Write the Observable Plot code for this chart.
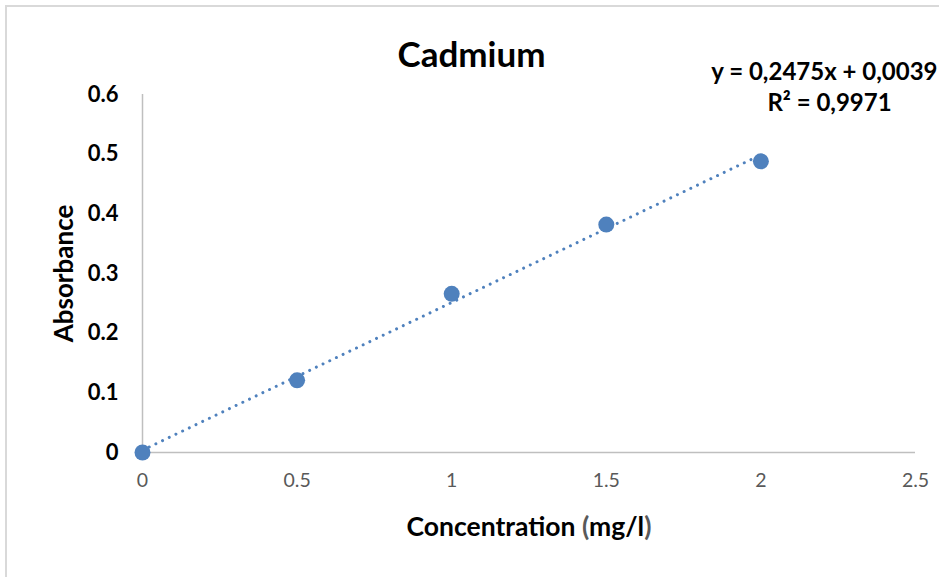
<!DOCTYPE html>
<html>
<head>
<meta charset="utf-8">
<script src="https://cdn.jsdelivr.net/npm/d3@7"></script>
<script src="https://cdn.jsdelivr.net/npm/@observablehq/plot@0.6"></script>
<style>
  html, body { margin: 0; padding: 0; background: #fff; overflow: hidden; }
  #wrap { position: relative; width: 939px; height: 577px; overflow: hidden; }
  #frame { position: absolute; left: 5px; top: 5px; width: 1200px; height: 1200px; border: 2px solid #d9d9d9; box-sizing: border-box; }
  #chart { position: absolute; left: 0; top: 0; }
</style>
</head>
<body>
<div id="wrap"><div id="frame"></div><div id="chart"></div></div>
<script>
const title = "Cadmium";
const xLabel = "Concentration (mg/l)";
const yLabel = "Absorbance";
const concentration = [0, 0.5, 1, 1.5, 2];
const absorbance = [0, 0.121, 0.266, 0.382, 0.488];
const xTicks = [0, 0.5, 1, 1.5, 2, 2.5];
const yTicks = [0, 0.1, 0.2, 0.3, 0.4, 0.5, 0.6];
const trendSlope = 0.2475;
const trendIntercept = 0.0039;
const trendX = [0, 2];
const equationText = "y = 0,2475x + 0,0039";
const r2Text = "R² = 0,9971";

const blue = "#4f81bd";
const font = "Lato, 'Open Sans', sans-serif";

const points = concentration.map((c, i) => ({x: c, y: absorbance[i]}));
const trend = trendX.map(x => ({x, y: trendSlope * x + trendIntercept}));

const chart = Plot.plot({
  width: 939,
  height: 577,
  marginLeft: 142,
  marginRight: 24,
  marginTop: 94,
  marginBottom: 125,
  style: {fontFamily: font, background: "transparent", overflow: "visible"},
  x: {domain: [0, 2.5]},
  y: {domain: [0, 0.6]},
  marks: [
    Plot.ruleY([0], {stroke: "#bfbfbf", strokeWidth: 1.5}),
    Plot.ruleX([0], {stroke: "#bfbfbf", strokeWidth: 1.5}),
    Plot.axisX({ticks: xTicks, tickSize: 0, tickPadding: 21, tickFormat: d => String(d), fontSize: 19.5, fill: "#595959", label: null}),
    Plot.axisY({ticks: yTicks, tickSize: 0, tickPadding: 24, tickFormat: d => String(d), fontSize: 22, fontWeight: "bold", fill: "#000", label: null}),
    Plot.line(trend, {x: "x", y: "y", stroke: blue, strokeWidth: 3, strokeDasharray: "0.01 7.4", strokeLinecap: "round"}),
    Plot.dot(points, {x: "x", y: "y", r: 8, fill: blue, stroke: "none"}),
    Plot.text([title], {frameAnchor: "top-left", dx: 329, dy: -39, text: d => d, fontSize: 35, fontWeight: "bold", fill: "#000", textAnchor: "middle", lineAnchor: "middle"}),
    Plot.text([yLabel], {frameAnchor: "left", dx: -78, text: d => d, rotate: -90, fontSize: 26, fontWeight: "bold", fill: "#000", textAnchor: "middle", lineAnchor: "middle"}),
    Plot.text([xLabel], {frameAnchor: "bottom", dy: 75, text: d => d, fontSize: 26.5, fontWeight: "bold", fill: "#000", textAnchor: "middle", lineAnchor: "middle"}),
    Plot.text([equationText], {frameAnchor: "top-right", dx: 22, dy: -22, text: d => d, fontSize: 24, fontWeight: "bold", fill: "#000", textAnchor: "end", lineAnchor: "middle"}),
    Plot.text([r2Text], {frameAnchor: "top-right", dx: -86, dy: 9, text: d => d, fontSize: 24, fontWeight: "bold", fill: "#000", textAnchor: "middle", lineAnchor: "middle"})
  ]
});
document.getElementById("chart").appendChild(chart);

// grey parentheses in x label
d3.select(chart).selectAll("text").filter(function() { return this.textContent === xLabel; }).each(function() {
  const t = d3.select(this);
  t.text(null);
  t.append("tspan").text("Concentration ");
  t.append("tspan").attr("fill", "#595959").text("(");
  t.append("tspan").text("mg/l");
  t.append("tspan").attr("fill", "#595959").text(")");
});
</script>
</body>
</html>
